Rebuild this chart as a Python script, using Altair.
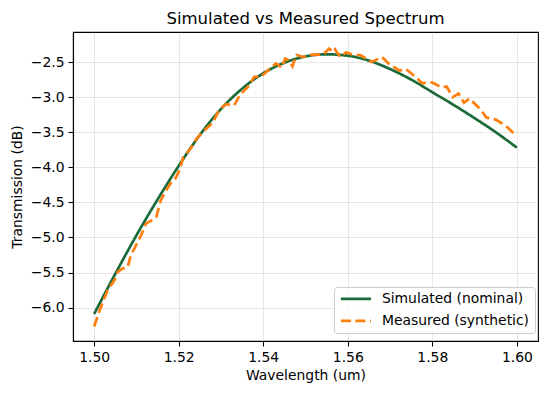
import altair as alt
import pandas as pd

# ---- data ----
sim_wl = [1.500, 1.505, 1.510, 1.515, 1.520, 1.525, 1.530, 1.535, 1.540, 1.545,
          1.550, 1.555, 1.560, 1.565, 1.570, 1.575, 1.580, 1.585, 1.590, 1.595, 1.600]
sim_db = [-6.09, -5.52, -4.97, -4.46, -3.98, -3.54, -3.17, -2.88, -2.66, -2.51,
          -2.42, -2.39, -2.41, -2.48, -2.60, -2.75, -2.93, -3.11, -3.30, -3.50, -3.72]

meas_wl = [1.5000, 1.5013, 1.5032, 1.5048, 1.5056, 1.5068, 1.5079, 1.5087, 1.5095, 1.5111,
           1.5123, 1.5135, 1.5147, 1.5157, 1.5168, 1.5182, 1.5190, 1.5202, 1.5211, 1.5229,
           1.5241, 1.5255, 1.5269, 1.5280, 1.5297, 1.5312, 1.5331, 1.5346, 1.5363, 1.5379,
           1.5395, 1.5416, 1.5430, 1.5444, 1.5452, 1.5462, 1.5469, 1.5479, 1.5495, 1.5510,
           1.5526, 1.5540, 1.5556, 1.5565, 1.5570, 1.5582, 1.5596, 1.5614, 1.5630, 1.5656,
           1.5681, 1.5698, 1.5722, 1.5737, 1.5750, 1.5776, 1.5799, 1.5822, 1.5834, 1.5848,
           1.5862, 1.5875, 1.5888, 1.5913, 1.5928, 1.5950, 1.5974, 1.5990, 1.6000]
meas_db = [-6.27, -6.04, -5.75, -5.61, -5.49, -5.44, -5.43, -5.25, -5.16, -4.97,
           -4.80, -4.76, -4.71, -4.48, -4.35, -4.22, -4.19, -4.04, -3.85, -3.73,
           -3.60, -3.51, -3.43, -3.37, -3.17, -3.10, -3.12, -2.96, -2.86, -2.71,
           -2.71, -2.59, -2.52, -2.58, -2.45, -2.48, -2.56, -2.40, -2.43, -2.40,
           -2.39, -2.40, -2.31, -2.36, -2.32, -2.43, -2.36, -2.40, -2.40, -2.50,
           -2.43, -2.53, -2.62, -2.60, -2.66, -2.80, -2.79, -2.86, -2.85, -3.00,
           -2.95, -3.08, -3.02, -3.17, -3.29, -3.32, -3.41, -3.50, -3.55]

series_names = ["Simulated (nominal)", "Measured (synthetic)"]
series_colors = ["#1b6b3a", "#ff7f0e"]

x_ticks = [1.50, 1.52, 1.54, 1.56, 1.58, 1.60]
y_ticks = [-6.0, -5.5, -5.0, -4.5, -4.0, -3.5, -3.0, -2.5]

sim_df = pd.DataFrame({"wl": sim_wl, "db": sim_db, "series": series_names[0]})
meas_df = pd.DataFrame({"wl": meas_wl, "db": meas_db, "series": series_names[1]})

FONT = "DejaVu Sans"

x_enc = alt.X("wl:Q", title="Wavelength (um)",
              scale=alt.Scale(domain=[1.495, 1.605], nice=False, zero=False),
              axis=alt.Axis(values=x_ticks, format=".2f"))
y_enc = alt.Y("db:Q", title="Transmission (dB)",
              scale=alt.Scale(domain=[-6.476, -2.072], nice=False, zero=False),
              axis=alt.Axis(values=y_ticks,
                            labelExpr="replace(format(datum.value, '.1f'), '-', '\u2212')"))
color_enc = alt.Color("series:N",
                      scale=alt.Scale(domain=series_names, range=series_colors),
                      legend=alt.Legend(title=None, orient="none", legendX=261, legendY=255,
                                        symbolType="M-1,0L5,0", symbolSize=100,
                                        symbolStrokeWidth=2.7,
                                        labelFontSize=13.9, labelFont=FONT,
                                        labelOffset=29,
                                        padding=5, rowPadding=7,
                                        strokeColor="#cccccc", fillColor="#ffffffcc",
                                        cornerRadius=3))
dash_enc = alt.StrokeDash("series:N",
                          scale=alt.Scale(domain=series_names, range=[[1, 0], [10, 4.5]]),
                          legend=None)

sim_line = alt.Chart(sim_df).mark_line(strokeWidth=2.7, interpolate="monotone").encode(
    x=x_enc, y=y_enc, color=color_enc, strokeDash=dash_enc)
meas_line = alt.Chart(meas_df).mark_line(strokeWidth=2.7).encode(
    x=x_enc, y=y_enc, color=color_enc, strokeDash=dash_enc)

chart = alt.layer(sim_line, meas_line).properties(
    width=465,
    height=309,
    title=alt.Title("Simulated vs Measured Spectrum", fontSize=16.5, font=FONT,
                    fontWeight="normal", offset=5),
    autosize=alt.AutoSizeParams(type="none"),
    padding={"left": 65, "top": 24, "right": 1, "bottom": 45},
    background="white",
).configure_view(
    stroke="black", strokeWidth=1.1
).configure_axis(
    labelFont=FONT, titleFont=FONT, labelFontSize=13.9, titleFontSize=13.9,
    titleFontWeight="normal", labelColor="black", titleColor="black",
    tickColor="black", domainColor="black", tickSize=5, tickWidth=1.1, domainWidth=1.1,
    gridColor="#b0b0b0", gridOpacity=0.3, gridWidth=1, labelPadding=4,
).configure_axisX(titlePadding=5).configure_axisY(titlePadding=6)

chart.save("out.html", embed_options={"renderer": "svg", "actions": False})
